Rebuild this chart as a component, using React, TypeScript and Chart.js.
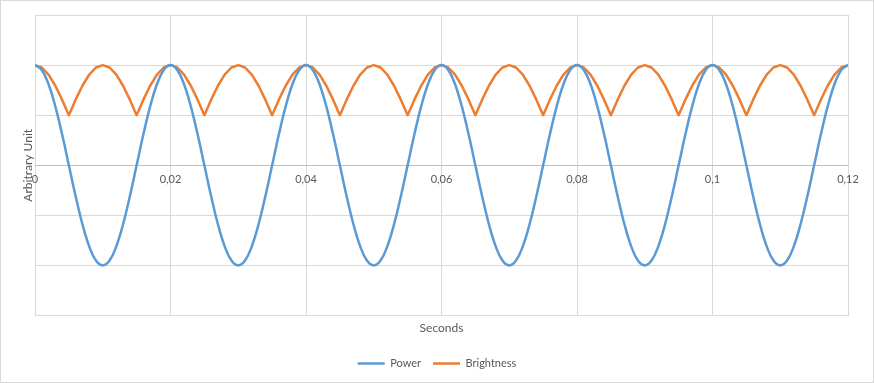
import React, { useEffect, useRef } from 'react';
import { Chart, registerables } from 'chart.js';
Chart.register(...registerables);

const TIME = [
  0, 0.001, 0.002, 0.003, 0.004, 0.005, 0.006, 0.007, 0.008, 0.009,
  0.01, 0.011, 0.012, 0.013, 0.014, 0.015, 0.016, 0.017, 0.018, 0.019,
  0.02, 0.021, 0.022, 0.023, 0.024, 0.025, 0.026, 0.027, 0.028, 0.029,
  0.03, 0.031, 0.032, 0.033, 0.034, 0.035, 0.036, 0.037, 0.038, 0.039,
  0.04, 0.041, 0.042, 0.043, 0.044, 0.045, 0.046, 0.047, 0.048, 0.049,
  0.05, 0.051, 0.052, 0.053, 0.054, 0.055, 0.056, 0.057, 0.058, 0.059,
  0.06, 0.061, 0.062, 0.063, 0.064, 0.065, 0.066, 0.067, 0.068, 0.069,
  0.07, 0.071, 0.072, 0.073, 0.074, 0.075, 0.076, 0.077, 0.078, 0.079,
  0.08, 0.081, 0.082, 0.083, 0.084, 0.085, 0.086, 0.087, 0.088, 0.089,
  0.09, 0.091, 0.092, 0.093, 0.094, 0.095, 0.096, 0.097, 0.098, 0.099,
  0.1, 0.101, 0.102, 0.103, 0.104, 0.105, 0.106, 0.107, 0.108, 0.109,
  0.11, 0.111, 0.112, 0.113, 0.114, 0.115, 0.116, 0.117, 0.118, 0.119,
  0.12,
];

const POWER = [
  1, 0.951, 0.809, 0.588, 0.309, 0, -0.309, -0.588, -0.809, -0.951,
  -1, -0.951, -0.809, -0.588, -0.309, 0, 0.309, 0.588, 0.809, 0.951,
  1, 0.951, 0.809, 0.588, 0.309, 0, -0.309, -0.588, -0.809, -0.951,
  -1, -0.951, -0.809, -0.588, -0.309, 0, 0.309, 0.588, 0.809, 0.951,
  1, 0.951, 0.809, 0.588, 0.309, 0, -0.309, -0.588, -0.809, -0.951,
  -1, -0.951, -0.809, -0.588, -0.309, 0, 0.309, 0.588, 0.809, 0.951,
  1, 0.951, 0.809, 0.588, 0.309, 0, -0.309, -0.588, -0.809, -0.951,
  -1, -0.951, -0.809, -0.588, -0.309, 0, 0.309, 0.588, 0.809, 0.951,
  1, 0.951, 0.809, 0.588, 0.309, 0, -0.309, -0.588, -0.809, -0.951,
  -1, -0.951, -0.809, -0.588, -0.309, 0, 0.309, 0.588, 0.809, 0.951,
  1, 0.951, 0.809, 0.588, 0.309, 0, -0.309, -0.588, -0.809, -0.951,
  -1, -0.951, -0.809, -0.588, -0.309, 0, 0.309, 0.588, 0.809, 0.951,
  1,
];

const BRIGHTNESS = [
  1, 0.976, 0.905, 0.794, 0.655, 0.5, 0.655, 0.794, 0.905, 0.976,
  1, 0.976, 0.905, 0.794, 0.655, 0.5, 0.655, 0.794, 0.905, 0.976,
  1, 0.976, 0.905, 0.794, 0.655, 0.5, 0.655, 0.794, 0.905, 0.976,
  1, 0.976, 0.905, 0.794, 0.655, 0.5, 0.655, 0.794, 0.905, 0.976,
  1, 0.976, 0.905, 0.794, 0.655, 0.5, 0.655, 0.794, 0.905, 0.976,
  1, 0.976, 0.905, 0.794, 0.655, 0.5, 0.655, 0.794, 0.905, 0.976,
  1, 0.976, 0.905, 0.794, 0.655, 0.5, 0.655, 0.794, 0.905, 0.976,
  1, 0.976, 0.905, 0.794, 0.655, 0.5, 0.655, 0.794, 0.905, 0.976,
  1, 0.976, 0.905, 0.794, 0.655, 0.5, 0.655, 0.794, 0.905, 0.976,
  1, 0.976, 0.905, 0.794, 0.655, 0.5, 0.655, 0.794, 0.905, 0.976,
  1, 0.976, 0.905, 0.794, 0.655, 0.5, 0.655, 0.794, 0.905, 0.976,
  1, 0.976, 0.905, 0.794, 0.655, 0.5, 0.655, 0.794, 0.905, 0.976,
  1,
];

const X_TICK_LABELS = ['0', '0,02', '0,04', '0,06', '0,08', '0,1', '0,12'];
const SERIES_NAMES = ['Power', 'Brightness'];

const BLUE = '#5b9bd5';
const ORANGE = '#ed7d31';
const TEXT = '#595959';
const GRID = '#d9d9d9';
const FONT = 'Lato, "Liberation Sans", sans-serif';

export default function App() {
  const ref = useRef<HTMLCanvasElement>(null);

  useEffect(() => {
    const canvas = ref.current;
    if (!canvas) return;
    const chart = new Chart(canvas, {
      type: 'line',
      data: {
        datasets: [
          {
            label: SERIES_NAMES[0],
            data: TIME.map((t, i) => ({ x: t, y: POWER[i] })),
            borderColor: BLUE,
            backgroundColor: BLUE,
            borderWidth: 2.5,
            pointRadius: 0,
            tension: 0.4,
            xAxisID: 'x',
            yAxisID: 'y',
          },
          {
            label: SERIES_NAMES[1],
            data: TIME.map((t, i) => ({ x: t, y: BRIGHTNESS[i] })),
            borderColor: ORANGE,
            backgroundColor: ORANGE,
            borderWidth: 2.5,
            pointRadius: 0,
            tension: 0,
            borderJoinStyle: 'round',
            xAxisID: 'x',
            yAxisID: 'y',
          },
        ],
      },
      options: {
        responsive: false,
        animation: false,
        events: [],
        layout: { padding: { left: 0, right: 0, top: 15, bottom: 4 } },
        scales: {
          x: {
            type: 'linear',
            min: 0,
            max: 0.12,
            position: 'bottom',
            ticks: { display: false, stepSize: 0.02 },
            grid: { color: GRID, drawTicks: false, lineWidth: 1 },
            border: { color: GRID },
            title: {
              display: true,
              text: 'Seconds',
              color: TEXT,
              font: { family: FONT, size: 12 },
              padding: { top: 5, bottom: 11 },
            },
          },
          x2: {
            type: 'linear',
            min: 0,
            max: 0.12,
            position: { y: 0 } as any,
            ticks: {
              stepSize: 0.02,
              autoSkip: false,
              maxRotation: 0,
              color: TEXT,
              font: { family: FONT, size: 11 },
              padding: 8,
              callback: (_v: any, i: number) => X_TICK_LABELS[i],
            },
            grid: { display: false, drawTicks: false },
            border: { color: '#bfbfbf' },
          },
          y: {
            type: 'linear',
            min: -1.5,
            max: 1.5,
            ticks: { display: false, stepSize: 0.5 },
            grid: {
              color: (c: any) => (c.tick && c.tick.value === 0 ? '#bfbfbf' : GRID),
              drawTicks: false,
            },
            border: { display: false },
            title: {
              display: true,
              text: 'Arbitrary Unit',
              color: TEXT,
              font: { family: FONT, size: 12 },
              padding: { top: 21, bottom: 0 },
            },
            afterFit: (s: any) => {
              s.width = 35;
            },
          },
          yRight: {
            type: 'linear',
            position: 'right',
            min: -1.5,
            max: 1.5,
            ticks: { display: false },
            grid: { display: false, drawTicks: false },
            border: { display: false },
            afterFit: (s: any) => {
              s.width = 26;
            },
          },
        },
        plugins: {
          legend: {
            position: 'bottom',
            labels: {
              usePointStyle: true,
              pointStyle: 'line',
              pointStyleWidth: 27,
              boxHeight: 11,
              color: TEXT,
              font: { family: FONT, size: 11 },
              padding: 12,
            },
          },
          tooltip: { enabled: false },
        },
      },
    });
    return () => chart.destroy();
  }, []);

  return (
    <div
      style={{
        position: 'fixed',
        left: 0,
        top: 0,
        width: 874,
        height: 383,
        background: '#fff',
      }}
    >
      <canvas ref={ref} width={874} height={383} style={{ display: 'block' }} />
      <div
        style={{
          position: 'absolute',
          left: 0,
          top: 0,
          width: 874,
          height: 383,
          boxSizing: 'border-box',
          border: '1px solid #d9d9d9',
          pointerEvents: 'none',
        }}
      />
    </div>
  );
}
